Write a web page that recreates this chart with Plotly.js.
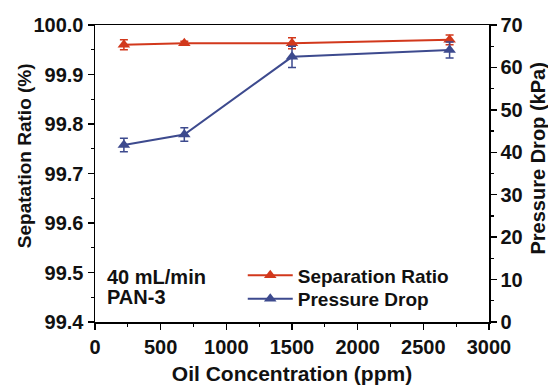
<!DOCTYPE html>
<html>
<head>
<meta charset="utf-8">
<script src="https://cdn.plot.ly/plotly-3.0.1.min.js"></script>
<style>html,body{margin:0;padding:0;background:#fff}#chart{width:548px;height:385px}</style>
</head>
<body>
<div id="chart"></div>
<script>
const oilConc = [220, 680, 1500, 2700];
const sepRatio = [99.960, 99.963, 99.963, 99.970];
const sepErr = [0.010, 0.004, 0.011, 0.010];
const pressureDrop = [41.7, 44.2, 62.5, 64.1];
const pressureErr = [1.6, 1.6, 2.5, 1.9];

const xTicks = [0, 500, 1000, 1500, 2000, 2500, 3000];
const xTickLabels = ['0', '500', '1000', '1500', '2000', '2500', '3000'];
const yTicks = [99.4, 99.5, 99.6, 99.7, 99.8, 99.9, 100.0];
const yTickLabels = ['99.4', '99.5', '99.6', '99.7', '99.8', '99.9', '100.0'];
const y2Ticks = [0, 10, 20, 30, 40, 50, 60, 70];
const y2TickLabels = ['0', '10', '20', '30', '40', '50', '60', '70'];

const red = '#D2381C';
const blue = '#3D4A8E';
const font = 'Arial, "Liberation Sans", sans-serif';
const bold = a => a.map(s => '<b>' + s + '</b>');

const traces = [
  {
    x: oilConc, y: sepRatio, name: '<b>Separation Ratio</b>', yaxis: 'y', legend: 'legend',
    type: 'scatter', mode: 'lines+markers',
    line: {color: red, width: 2},
    marker: {symbol: 'triangle-up', size: 11, color: red},
    error_y: {type: 'data', array: sepErr, visible: true, color: red, thickness: 1.5, width: 4}
  },
  {
    x: oilConc, y: pressureDrop, name: '<b>Pressure Drop</b>', yaxis: 'y2', legend: 'legend2',
    type: 'scatter', mode: 'lines+markers',
    line: {color: blue, width: 2},
    marker: {symbol: 'triangle-up', size: 11, color: blue},
    error_y: {type: 'data', array: pressureErr, visible: true, color: blue, thickness: 1.5, width: 4}
  }
];

const tickFont = {family: font, size: 20, color: '#111'};

const axisCommon = {
  showgrid: false, zeroline: false, showline: true, linecolor: '#000', linewidth: 1.5,
  ticks: 'outside', ticklen: 6, tickwidth: 1.5, tickcolor: '#000',
  tickfont: tickFont, tickmode: 'array'
};

const legendCommon = {
  x: 0.375, xanchor: 'left', yanchor: 'middle', itemwidth: 45,
  bgcolor: 'rgba(0,0,0,0)', font: {family: font, size: 19, color: '#111'}
};

const layout = {
  width: 548, height: 385,
  margin: {l: 95, r: 59, t: 25, b: 63},
  paper_bgcolor: '#fff', plot_bgcolor: '#fff',
  font: {family: font, color: '#111'},
  showlegend: true,
  legend: Object.assign({}, legendCommon, {y: 0.1566}),
  legend2: Object.assign({}, legendCommon, {y: 0.0781}),
  xaxis: Object.assign({}, axisCommon, {
    range: [0, 3000], tickvals: xTicks, ticktext: bold(xTickLabels), mirror: true,
    minor: {dtick: 250, ticklen: 3, tickwidth: 1.2, tickcolor: '#000', ticks: 'outside'},
    title: {text: '<b>Oil Concentration (ppm)</b>', font: {family: font, size: 21, color: '#111'}, standoff: 14}
  }),
  yaxis: Object.assign({}, axisCommon, {
    range: [99.4, 100.0], tickvals: yTicks, ticktext: bold(yTickLabels),
    minor: {dtick: 0.05, ticklen: 3, tickwidth: 1.2, tickcolor: '#000', ticks: 'outside'}
  }),
  yaxis2: Object.assign({}, axisCommon, {
    range: [0, 70], tickvals: y2Ticks, ticktext: bold(y2TickLabels), overlaying: 'y', side: 'right',
    minor: {dtick: 5, ticklen: 3, tickwidth: 1.2, tickcolor: '#000', ticks: 'outside'}
  }),
  annotations: [
    {xref: 'paper', yref: 'paper', x: -0.179, y: 0.56, xanchor: 'center', yanchor: 'middle', showarrow: false,
     textangle: -90, text: '<b>Sepatation Ratio (%)</b>', font: {family: font, size: 19, color: '#111'}},
    {xref: 'paper', yref: 'paper', x: 1.124, y: 0.55, xanchor: 'center', yanchor: 'middle', showarrow: false,
     textangle: -90, text: '<b>Pressure Drop (kPa)</b>', font: {family: font, size: 20, color: '#111'}},
    {xref: 'paper', yref: 'paper', x: 0.0254, y: 0.1515, xanchor: 'left', yanchor: 'middle', showarrow: false,
     text: '<b>40 mL/min</b>', font: {family: font, size: 20, color: '#111'}},
    {xref: 'paper', yref: 'paper', x: 0.0254, y: 0.0842, xanchor: 'left', yanchor: 'middle', showarrow: false,
     text: '<b>PAN-3</b>', font: {family: font, size: 20, color: '#111'}}
  ]
};

Plotly.newPlot('chart', traces, layout, {displayModeBar: false, staticPlot: true});
</script>
</body>
</html>
